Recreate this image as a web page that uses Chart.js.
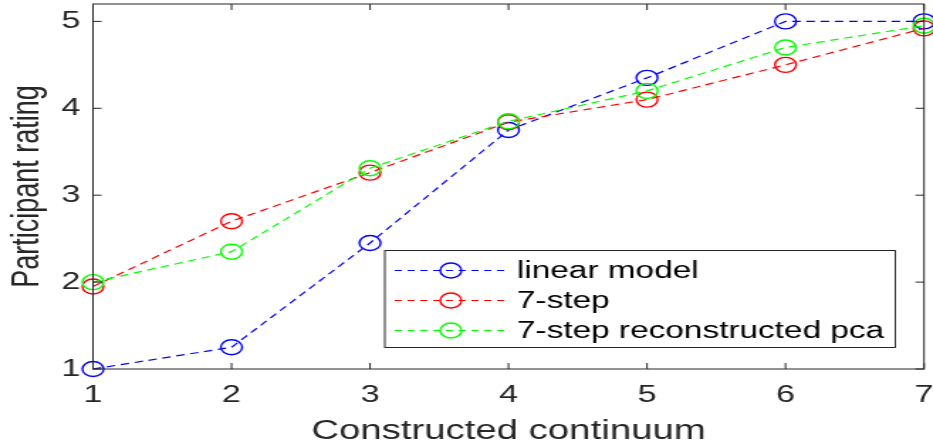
<!DOCTYPE html>
<html>
<head>
<meta charset="utf-8">
<script src="https://cdn.jsdelivr.net/npm/chart.js@4"></script>
<style>
  html, body { margin: 0; padding: 0; background: #fff; overflow: hidden; }
  /* the reference is stretched sideways, so draw narrow and widen it */
  #wrap { width: 657px; height: 446px; transform: scaleX(1.42); transform-origin: 0 0; }
</style>
</head>
<body>
<div id="wrap"><canvas id="ratingChart" width="657" height="446"></canvas></div>
<script>
const continuum = [1, 2, 3, 4, 5, 6, 7];
const ratingTicks = [1, 2, 3, 4, 5];
const linearModel = [1.0, 1.25, 2.45, 3.75, 4.35, 5.0, 5.0];
const sevenStep = [1.95, 2.7, 3.26, 3.84, 4.1, 4.5, 4.92];
const sevenStepPca = [2.0, 2.35, 3.31, 3.85, 4.2, 4.7, 4.95];
const seriesLabels = ['linear model', '7-step', '7-step reconstructed pca'];
const seriesColors = ['#0000ff', '#ff0000', '#00ff00'];

const FONT = '"Liberation Sans", Arial, Helvetica, sans-serif';
const AXIS_COLOR = '#262626';

const toPoints = vals => vals.map((v, i) => ({ x: continuum[i], y: v }));

const datasets = [linearModel, sevenStep, sevenStepPca].map((vals, i) => ({
  label: seriesLabels[i],
  data: toPoints(vals),
  borderColor: seriesColors[i],
  backgroundColor: 'rgba(0,0,0,0)',
  borderWidth: 1.2,
  borderDash: [6, 4],
  pointStyle: 'circle',
  pointRadius: 7.5,
  pointBorderWidth: 1.4,
  pointBackgroundColor: 'rgba(0,0,0,0)',
  pointBorderColor: seriesColors[i],
  tension: 0,
  clip: false,
  order: 3 - i
}));

// box round the plot with inward ticks, like matlab's "box on"
const axesBox = {
  id: 'axesBox',
  afterDatasetsDraw(chart) {
    const { ctx, chartArea: a, scales } = chart;
    const len = 6;
    ctx.save();
    ctx.strokeStyle = AXIS_COLOR;
    ctx.lineWidth = 1;
    ctx.strokeRect(a.left, a.top, a.right - a.left, a.bottom - a.top);
    ctx.beginPath();
    continuum.forEach(v => {
      const x = scales.x.getPixelForValue(v);
      ctx.moveTo(x, a.bottom); ctx.lineTo(x, a.bottom - len);
      ctx.moveTo(x, a.top); ctx.lineTo(x, a.top + len);
    });
    ratingTicks.forEach(v => {
      const y = scales.y.getPixelForValue(v);
      ctx.moveTo(a.left, y); ctx.lineTo(a.left + len, y);
      ctx.moveTo(a.right, y); ctx.lineTo(a.right - len, y);
    });
    ctx.stroke();
    ctx.restore();
  }
};

const boxLegend = {
  id: 'boxLegend',
  afterDraw(chart, args, opts) {
    const { ctx } = chart;
    ctx.save();
    ctx.fillStyle = '#fff';
    ctx.fillRect(opts.left, opts.top, opts.right - opts.left, opts.bottom - opts.top);
    ctx.strokeStyle = AXIS_COLOR;
    ctx.lineWidth = 1;
    ctx.strokeRect(opts.left, opts.top, opts.right - opts.left, opts.bottom - opts.top);
    chart.data.datasets.forEach((ds, i) => {
      const y = opts.rowTop + i * opts.rowGap;
      ctx.strokeStyle = ds.borderColor;
      ctx.lineWidth = 1.1;
      ctx.setLineDash([5, 4]);
      ctx.beginPath();
      ctx.moveTo(opts.lineFrom, y);
      ctx.lineTo(opts.lineTo, y);
      ctx.stroke();
      ctx.setLineDash([]);
      ctx.lineWidth = 1.4;
      ctx.beginPath();
      ctx.arc((opts.lineFrom + opts.lineTo) / 2, y, 7.5, 0, Math.PI * 2);
      ctx.stroke();
      ctx.fillStyle = '#000';
      ctx.font = '23.5px ' + FONT;
      ctx.textBaseline = 'middle';
      ctx.textAlign = 'left';
      ctx.fillText(ds.label, opts.textX, y + 1);
    });
    ctx.restore();
  }
};

// keep the plot box where the reference has it: no extra room for edge labels
const noEdgePadding = s => {
  s.paddingTop = 0; s.paddingBottom = 0;
  s.paddingLeft = 0; s.paddingRight = 0;
};

const ctx = document.getElementById('ratingChart').getContext('2d');
const ratingChart = new Chart(ctx, {
  type: 'line',
  data: { datasets: datasets },
  options: {
    responsive: false,
    animation: false,
    devicePixelRatio: 1,
    layout: { autoPadding: false, padding: { top: 4, right: 6.3, left: 0, bottom: 0 } },
    plugins: {
      legend: { display: false },
      tooltip: { enabled: false },
      boxLegend: {
        left: 271, top: 250.5, right: 630.5, bottom: 347.5,
        rowTop: 270.5, rowGap: 30,
        lineFrom: 278, lineTo: 357, textX: 364
      }
    },
    scales: {
      x: {
        type: 'linear',
        min: 1,
        max: 7,
        afterBuildTicks: s => { s.ticks = continuum.map(v => ({ value: v })); },
        afterFit: s => { s.height = 77; noEdgePadding(s); },
        ticks: { color: AXIS_COLOR, font: { family: FONT, size: 24 }, padding: 12, maxRotation: 0 },
        grid: { display: false, drawTicks: false, tickLength: 0 },
        border: { display: false },
        title: {
          display: true,
          text: 'Constructed continuum',
          color: AXIS_COLOR,
          font: { family: FONT, size: 27, lineHeight: 1 },
          padding: { top: 0, bottom: 1 }
        }
      },
      y: {
        type: 'linear',
        min: 1,
        max: 5.2,
        afterBuildTicks: s => { s.ticks = ratingTicks.map(v => ({ value: v })); },
        afterFit: s => { s.width = 65.5; noEdgePadding(s); },
        ticks: { color: AXIS_COLOR, font: { family: FONT, size: 24 }, padding: 9 },
        grid: { display: false, drawTicks: false, tickLength: 0 },
        border: { display: false },
        title: {
          display: true,
          text: 'Participant rating',
          color: AXIS_COLOR,
          font: { family: FONT, size: 27, lineHeight: 1 },
          padding: { top: 6, bottom: 0 }
        }
      }
    }
  },
  plugins: [axesBox, boxLegend]
});
</script>
</body>
</html>
